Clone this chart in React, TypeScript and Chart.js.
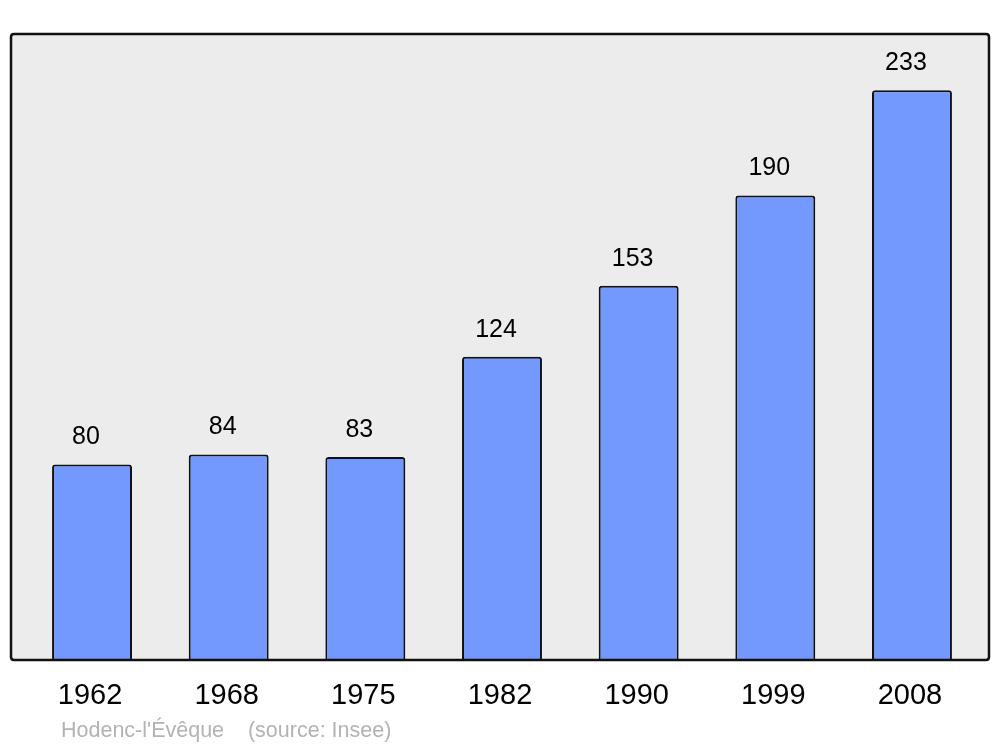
import React, { useEffect, useRef } from "react";
import { Chart, registerables } from "chart.js";

Chart.register(...registerables);

const years = ["1962", "1968", "1975", "1982", "1990", "1999", "2008"];
const population = [80, 84, 83, 124, 153, 190, 233];
const sourceText = "Hodenc-l'Évêque    (source: Insee)";

function roundRect(ctx: CanvasRenderingContext2D, x: number, y: number, w: number, h: number, r: number) {
  ctx.beginPath();
  ctx.moveTo(x + r, y);
  ctx.lineTo(x + w - r, y);
  ctx.quadraticCurveTo(x + w, y, x + w, y + r);
  ctx.lineTo(x + w, y + h - r);
  ctx.quadraticCurveTo(x + w, y + h, x + w - r, y + h);
  ctx.lineTo(x + r, y + h);
  ctx.quadraticCurveTo(x, y + h, x, y + h - r);
  ctx.lineTo(x, y + r);
  ctx.quadraticCurveTo(x, y, x + r, y);
  ctx.closePath();
}

const framePlugin = {
  id: "frame",
  beforeDatasetsDraw(chart: any) {
    const { ctx, chartArea } = chart;
    const x0 = chartArea.left - 12.7;
    const x1 = chartArea.right + 8.7;
    ctx.save();
    roundRect(ctx, x0, chartArea.top, x1 - x0, chartArea.bottom - chartArea.top, 3);
    ctx.fillStyle = "#ececec";
    ctx.fill();
    ctx.restore();
  },
  afterDatasetsDraw(chart: any) {
    const { ctx, chartArea } = chart;
    const x0 = chartArea.left - 12.7;
    const x1 = chartArea.right + 8.7;
    ctx.save();
    roundRect(ctx, x0, chartArea.top, x1 - x0, chartArea.bottom - chartArea.top, 3);
    ctx.lineWidth = 2.5;
    ctx.strokeStyle = "#111111";
    ctx.stroke();

    const meta = chart.getDatasetMeta(0);
    ctx.fillStyle = "#000000";
    ctx.textAlign = "center";
    ctx.textBaseline = "middle";
    ctx.font = "25px 'Liberation Sans', Arial, sans-serif";
    meta.data.forEach((bar: any, i: number) => {
      ctx.fillText(String(population[i]), bar.x - 6, bar.y - 27);
    });

    ctx.font = "29px 'Liberation Sans', Arial, sans-serif";
    const xScale = chart.scales.x;
    years.forEach((y, i) => {
      ctx.fillText(y, xScale.getPixelForValue(i) - 2, chartArea.bottom + 36);
    });

    ctx.font = "21.5px 'Liberation Sans', Arial, sans-serif";
    ctx.fillStyle = "#b3b3b3";
    ctx.textAlign = "left";
    ctx.fillText(sourceText, 61, chartArea.bottom + 71);
    ctx.restore();
  },
};

export default function App() {
  const ref = useRef<HTMLCanvasElement>(null);
  useEffect(() => {
    if (!ref.current) return;
    const chart = new Chart(ref.current, {
      type: "bar",
      data: {
        labels: years,
        datasets: [
          {
            data: population,
            backgroundColor: "#7399ff",
            borderColor: "#111111",
            borderWidth: 2,
            borderRadius: 3,
            borderSkipped: "bottom",
            categoryPercentage: 1,
            barPercentage: 0.585,
          },
        ],
      },
      options: {
        animation: false,
        responsive: false,
        maintainAspectRatio: false,
        devicePixelRatio: 1,
        layout: { padding: { left: 23.7, right: 19.7, top: 34, bottom: 87 } },
        plugins: { legend: { display: false }, tooltip: { enabled: false }, title: { display: false } },
        scales: {
          x: { display: false, grid: { display: false } },
          y: { display: false, min: 0, max: 256, grid: { display: false } },
        },
      },
      plugins: [framePlugin],
    });
    return () => chart.destroy();
  }, []);
  return (
    <div style={{ position: "fixed", left: 0, top: 0, width: 1000, height: 747, background: "#ffffff" }}>
      <canvas ref={ref} width={1000} height={747} style={{ width: 1000, height: 747, display: "block" }} />
    </div>
  );
}
